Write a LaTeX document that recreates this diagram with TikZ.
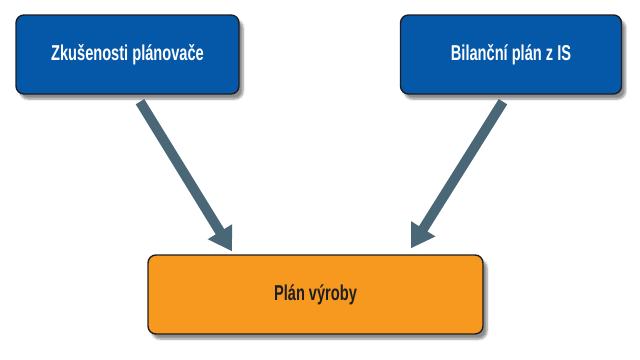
\documentclass[tikz,border=0pt]{standalone}
\usepackage{xcolor}
\usepackage{fontspec}
\setmainfont{Liberation Sans}[FakeStretch=0.68]
\usepackage{tikz}
\usetikzlibrary{arrows.meta, positioning, calc, shadows, shadows.blur}
\definecolor{myblue}{RGB}{5,87,168}
\definecolor{myorange}{RGB}{247,153,30}
\definecolor{mydark}{RGB}{30,30,34}
\definecolor{myslate}{RGB}{74,103,119}
\tikzset{
  bluebox/.style={rectangle, draw=mydark, fill=myblue,
    minimum width=223pt, minimum height=79pt,
    text=white, font=\fontsize{21.5}{24}\selectfont\bfseries,
    rounded corners=8pt, line width=1.4pt,
    blur shadow={shadow xshift=4pt, shadow yshift=-5pt, shadow blur steps=6, shadow opacity=45}},
  orangebox/.style={rectangle, draw=mydark, fill=myorange,
    minimum width=335pt, minimum height=79pt,
    text=mydark, font=\fontsize{21.5}{24}\selectfont\bfseries,
    rounded corners=8pt, line width=1.4pt,
    blur shadow={shadow xshift=4pt, shadow yshift=-5pt, shadow blur steps=6, shadow opacity=45}},
  fatarrow/.style={-{Triangle[length=23pt, width=27pt]}, line width=10pt, color=myslate}
}

\begin{document}
\begin{tikzpicture}[x=1pt, y=-1pt]
  \useasboundingbox (0,0) rectangle (640,359);

  % two sources on top
  \node[bluebox] (zkus)  at (127.5, 54.5) {Zkušenosti plánovače};
  \node[bluebox, minimum width=221pt] (bilan) at (511, 54.5) {Bilanční plán z IS};

  % target below
  \node[orangebox] (plan) at (315.5, 294.5) {Plán výroby};

  % arrows into the plan
  \draw[fatarrow] ([xshift=12.5pt, yshift=-7pt]zkus.south) -- ([xshift=-83.5pt, yshift=3pt]plan.north);
  \draw[fatarrow] ([xshift=-8pt, yshift=-7pt]bilan.south) -- ([xshift=95.5pt, yshift=6pt]plan.north);
\end{tikzpicture}
\end{document}
